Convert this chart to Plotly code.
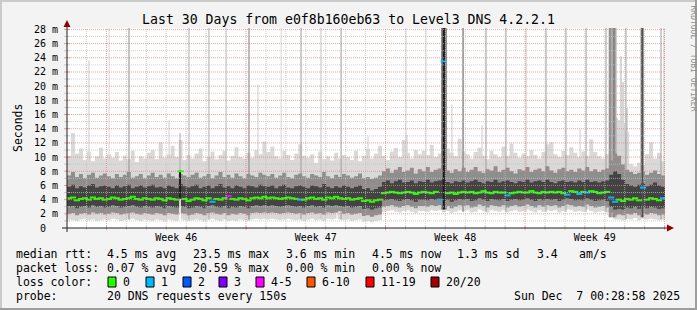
import pandas as pd
import plotly.graph_objects as go

# ---------------------------------------------------------------- data
chart_title = "Last 30 Days from e0f8b160eb63 to Level3 DNS 4.2.2.1"
y_title = "Seconds"
watermark = "RRDTOOL / TOBI OETIKER"
period_start = "2025-11-07 00:28:58"
period_end = "2025-12-07 00:28:58"

# median round trip time per sample (ms), 150 samples of 4.8 h
median_ms = [
    4.2, 4.3, 3.9, 4.1, 4.2, 4.0, 4.3, 4.1, 4.2, 4.0,
    4.1, 4.3, 4.2, 4.0, 4.1, 4.2, 4.4, 4.1, 4.0, 4.2,
    4.1, 4.0, 4.2, 4.1, 3.9, 4.2, 4.1, 4.0, 8.0, 4.1,
    3.8, 4.0, 4.2, 4.1, 3.9, 4.2, 3.7, 4.1, 4.0, 4.2,
    4.5, 4.1, 4.0, 4.2, 4.1, 3.9, 4.2, 4.3, 4.2, 4.4,
    4.2, 4.3, 4.2, 4.1, 4.2, 4.3, 4.2, 4.1, 4.0, 4.0,
    4.2, 4.3, 4.1, 4.2, 4.0, 4.3, 4.2, 4.4, 4.2, 4.1,
    4.2, 4.0, 4.1, 4.2, 3.8, 3.9, 3.7, 3.9, 4.0,
    4.9, 5.0, 5.1, 5.0, 4.9, 5.0, 5.1, 5.0, 4.8, 5.0,
    5.1, 5.0, 4.9, 5.1, 4.0, 23.5, 4.9, 5.0, 4.8, 5.0,
    5.1, 5.0, 5.1, 4.9, 5.0, 5.2, 5.0, 4.9, 5.1, 5.0,
    5.0, 4.6, 4.9, 5.0, 5.1, 5.0, 5.0, 5.2, 5.0, 4.9,
    5.1, 5.0, 5.1, 5.0, 5.1, 4.9, 4.7, 5.2, 5.1, 4.8,
    5.1, 5.0, 5.2, 5.1, 4.9, 5.0, 5.1, 4.3, 3.7,
    4.0, 3.8, 4.1, 4.0, 4.2, 3.9, 5.7, 4.0, 4.2, 4.1, 3.9, 4.2,
]
# samples that lost pings: sample index -> lost pings out of 20
lossy_samples = {36: 1, 40: 4, 58: 1, 93: 1, 94: 1, 110: 1, 125: 1, 128: 1,
                 130: 1, 136: 1, 137: 1, 144: 1, 149: 1}

# smoke: spread of the 20 pings of every sample (ms)
smoke_min = [
    1.2, 1.1, 1.0, 1.2, 1.3, 1.1, 1.2, 1.0, 1.1, 1.2,
    1.1, 1.3, 1.2, 1.0, 1.1, 1.2, 1.3, 1.1, 1.0, 1.2,
    1.1, 1.0, 1.2, 1.1, 0.9, 1.2, 1.1, 1.0, 1.2, 1.1,
    1.0, 1.1, 1.2, 1.1, 0.9, 1.2, 1.3, 1.1, 1.0, 1.2,
    1.0, 1.1, 1.0, 1.2, 1.1, 1.0, 1.2, 1.3, 1.2, 1.3,
    1.2, 1.3, 1.2, 1.1, 1.2, 1.3, 1.2, 1.1, 1.2, 1.0,
    1.2, 1.3, 1.1, 1.2, 1.0, 1.3, 1.2, 1.3, 1.2, 1.1,
    1.2, 1.0, 1.1, 1.2, 0.9, 1.0, 0.8, 1.0, 1.1,
    2.3, 2.4, 2.5, 2.3, 2.2, 2.4, 2.5, 2.3, 2.1, 2.4,
    2.4, 2.3, 2.5, 2.4, 2.5, 2.2, 2.4, 2.1, 2.3, 2.5,
    2.4, 2.5, 2.2, 2.3, 2.6, 2.4, 2.2, 2.5, 2.4, 2.3,
    2.5, 2.2, 2.4, 2.5, 2.3, 2.4, 2.6, 2.4, 2.2, 2.5,
    2.3, 2.5, 2.4, 2.5, 2.2, 2.4, 2.6, 2.5, 2.3, 2.4,
    2.3, 2.6, 2.4, 2.2, 2.3, 2.4, 2.2, 1.5, 1.2,
    1.2, 1.1, 1.3, 1.2, 1.4, 1.1, 1.3, 1.2, 1.3, 1.2, 1.1, 1.2,
]
smoke_p10 = [
    2.0, 2.1, 1.8, 2.0, 2.1, 1.9, 2.2, 2.0, 2.1, 1.9,
    2.0, 2.2, 2.1, 1.9, 2.0, 2.1, 2.2, 2.0, 1.9, 2.1,
    2.0, 1.9, 2.1, 2.0, 1.8, 2.1, 2.0, 1.9, 2.1, 2.0,
    1.8, 1.9, 2.1, 2.0, 1.8, 2.1, 2.2, 2.0, 1.9, 2.1,
    1.8, 2.0, 1.9, 2.1, 2.0, 1.8, 2.1, 2.2, 2.1, 2.2,
    2.1, 2.2, 2.1, 2.0, 2.1, 2.2, 2.1, 2.0, 2.1, 1.9,
    2.1, 2.2, 2.0, 2.1, 1.9, 2.2, 2.1, 2.2, 2.4, 2.0,
    2.1, 1.9, 2.0, 2.1, 1.7, 1.8, 1.6, 1.8, 1.9,
    3.0, 3.1, 3.2, 3.0, 2.9, 3.1, 3.2, 3.0, 2.8, 3.1,
    3.1, 3.0, 3.2, 3.1, 3.2, 2.9, 3.1, 2.8, 3.0, 3.2,
    3.1, 3.2, 2.9, 3.0, 3.3, 3.1, 2.9, 3.2, 3.1, 3.0,
    3.2, 2.9, 3.1, 3.2, 3.0, 3.1, 3.3, 3.1, 2.9, 3.2,
    3.0, 3.2, 3.1, 3.2, 2.9, 3.1, 3.3, 3.2, 3.0, 3.1,
    3.0, 3.3, 3.1, 2.9, 3.0, 3.1, 2.9, 2.2, 1.8,
    1.9, 1.8, 2.0, 1.9, 2.1, 1.8, 2.0, 1.9, 2.1, 2.0, 1.8, 1.9,
]
smoke_p25 = [
    3.0, 3.1, 2.8, 3.0, 3.1, 2.9, 3.2, 3.0, 3.1, 2.9,
    3.0, 3.2, 3.1, 2.9, 3.0, 3.1, 3.2, 3.0, 2.9, 3.1,
    3.0, 2.9, 3.1, 3.0, 2.8, 3.1, 3.0, 2.9, 3.1, 3.0,
    2.8, 2.9, 3.1, 3.0, 2.8, 3.1, 3.2, 3.0, 2.9, 3.1,
    2.8, 3.0, 2.9, 3.1, 3.0, 2.8, 3.1, 3.2, 3.1, 3.2,
    3.1, 3.2, 3.1, 3.0, 3.1, 3.2, 3.1, 3.0, 3.1, 2.9,
    3.1, 3.2, 3.0, 3.1, 2.9, 3.2, 3.1, 3.2, 3.1, 3.0,
    3.1, 2.9, 3.0, 3.1, 2.7, 2.8, 2.6, 2.8, 2.9,
    3.9, 4.0, 4.1, 3.9, 3.8, 4.0, 4.1, 3.9, 3.7, 4.0,
    4.0, 3.9, 4.1, 4.0, 4.1, 3.8, 4.0, 3.7, 3.9, 4.1,
    4.0, 4.1, 3.8, 3.9, 4.2, 4.0, 3.8, 4.1, 4.0, 3.9,
    4.1, 3.8, 4.0, 4.1, 3.9, 4.0, 4.2, 4.0, 3.8, 4.1,
    3.9, 4.1, 4.0, 4.1, 3.8, 4.0, 4.2, 4.1, 3.9, 4.0,
    3.9, 4.2, 4.0, 3.8, 3.9, 4.0, 3.8, 3.0, 2.6,
    2.7, 2.6, 2.9, 2.8, 3.0, 2.7, 2.9, 2.8, 3.0, 2.9, 2.7, 2.8,
]
smoke_p75 = [
    5.8, 6.1, 5.6, 5.9, 5.7, 6.0, 6.2, 5.7, 5.9, 6.0,
    5.8, 5.6, 6.0, 5.7, 5.9, 6.1, 5.6, 5.8, 6.0, 5.7,
    5.9, 6.1, 5.7, 5.8, 5.6, 6.0, 5.8, 5.6, 6.2, 5.9,
    5.7, 5.9, 6.1, 5.6, 5.8, 6.0, 5.6, 5.9, 6.2, 5.7,
    5.9, 5.6, 6.0, 5.8, 5.6, 6.0, 5.9, 5.7, 6.1, 5.9,
    5.8, 6.0, 5.6, 5.9, 6.1, 5.7, 5.6, 5.9, 6.0, 5.8,
    5.6, 6.0, 5.9, 5.7, 6.2, 5.8, 5.6, 5.9, 5.7, 6.0,
    5.8, 5.6, 5.8, 6.0, 5.5, 5.6, 5.3, 5.5, 5.8,
    6.5, 6.7, 6.3, 6.6, 6.8, 6.4, 6.5, 6.7, 6.3, 6.6,
    6.5, 6.8, 6.4, 6.6, 6.7, 6.9, 6.5, 6.3, 6.6, 6.5,
    6.7, 6.4, 6.6, 6.8, 6.5, 6.3, 6.6, 6.5, 6.8, 6.4,
    6.6, 6.7, 6.5, 6.3, 6.6, 6.5, 6.8, 6.4, 6.6, 6.7,
    6.5, 6.8, 6.5, 6.3, 6.6, 6.7, 6.5, 6.6, 6.4, 6.7,
    6.5, 6.8, 6.5, 6.6, 6.4, 6.6, 6.7, 7.5, 8.0,
    7.6, 6.8, 6.2, 6.0, 5.8, 6.1, 6.3, 5.9, 6.1, 6.4, 6.0, 5.8,
]
smoke_p90 = [
    7.4, 7.9, 7.2, 7.6, 7.0, 7.5, 7.8, 7.1, 7.4, 7.7,
    7.3, 7.0, 7.6, 7.2, 7.5, 7.9, 7.1, 7.3, 7.6, 7.0,
    7.4, 7.8, 7.2, 7.5, 7.1, 7.7, 7.3, 7.0, 7.6, 7.4,
    7.2, 7.5, 7.8, 7.1, 7.3, 7.6, 7.0, 7.4, 7.9, 7.2,
    7.5, 7.1, 7.7, 7.3, 7.0, 7.6, 7.4, 7.2, 7.8, 7.5,
    7.3, 7.6, 7.1, 7.4, 7.8, 7.2, 7.0, 7.5, 7.7, 7.3,
    7.1, 7.6, 7.4, 7.2, 7.9, 7.3, 7.0, 7.5, 7.2, 7.6,
    7.4, 7.1, 7.3, 7.7, 7.0, 7.2, 6.9, 7.1, 7.4,
    8.0, 8.4, 7.8, 8.2, 8.6, 7.9, 8.1, 8.5, 7.7, 8.3,
    8.0, 8.6, 7.9, 8.2, 8.4, 8.8, 8.1, 7.8, 8.3, 8.0,
    8.5, 7.9, 8.2, 8.6, 8.0, 7.8, 8.3, 8.1, 8.7, 7.9,
    8.2, 8.5, 8.0, 7.7, 8.3, 8.1, 8.6, 7.9, 8.2, 8.4,
    8.0, 8.7, 8.1, 7.8, 8.3, 8.5, 8.0, 8.2, 7.9, 8.4,
    8.1, 8.6, 8.0, 8.3, 7.9, 8.2, 8.4, 9.5, 10.5,
    10.2, 9.0, 8.2, 7.9, 7.6, 7.8, 8.0, 7.5, 7.8, 8.1, 7.6, 7.4,
]
smoke_max = [
    10.2, 13.4, 10.5, 11.2, 9.6, 10.8, 9.4, 10.1, 11.3, 9.8,
    10.4, 9.9, 10.7, 9.5, 10.2, 9.7, 10.9, 9.3, 10.1, 9.8,
    10.6, 11.0, 9.7, 12.1, 9.9, 10.4, 11.6, 10.0, 12.4, 9.6,
    10.3, 9.8, 10.5, 11.2, 9.4, 10.0, 10.8, 9.7, 10.3, 10.9,
    9.5, 10.2, 11.4, 10.0, 9.8, 10.6, 9.9, 11.0, 10.4, 12.2,
    10.7, 11.5, 10.1, 9.8, 10.9, 10.3, 9.6, 10.5, 11.8, 10.2,
    9.9, 10.4, 9.2, 10.8, 9.7, 10.1, 9.5, 10.6, 9.8, 10.3,
    10.0, 9.6, 10.9, 9.4, 10.2, 11.1, 9.8, 10.5, 11.6,
    10.2, 9.6, 10.8, 11.3, 10.0, 12.4, 10.6, 9.8, 11.0, 10.4,
    10.9, 10.3, 11.7, 10.0, 10.5, 9.9, 11.2, 10.6, 10.1, 12.6,
    10.8, 10.4, 9.8, 10.7, 11.3, 10.2, 9.7, 10.9, 10.4, 10.0,
    11.5, 10.2, 11.9, 10.6, 9.9, 10.5, 10.1, 11.0, 10.3, 9.8,
    10.7, 11.8, 12.1, 10.4, 10.0, 10.9, 10.3, 11.4, 10.6, 10.0,
    10.8, 10.2, 12.5, 10.7, 10.1, 9.8, 10.4, 13.0, 15.5,
    15.2, 14.8, 13.6, 9.0, 8.7, 9.2, 8.9, 10.4, 12.1, 9.8, 10.6, 9.4,
]

# outlier columns: day offset from start, duration (h), low / high (ms), pings that were slow
spike_day = [1.10, 5.12, 9.58, 15.10, 17.06, 19.31, 20.82, 25.74, 27.59, 27.79, 27.89, 28.09,
             2.11, 10.74, 12.74, 17.01, 18.01, 23.03, 29.95,
             3.11, 6.12, 7.12, 7.98, 9.13, 11.74, 13.75, 19.87, 21.02, 22.02, 24.03, 25.03,
             26.04, 27.04, 28.04, 29.80,
             27.37, 27.24, 27.44, 18.91, 28.85, 5.67,
             18.91, 28.87, 5.67]
spike_hours = [1.5, 1.5, 1.5, 1.5, 1.5, 1.5, 1.5, 1.5, 2.4, 2.4, 2.4, 2.4,
               1.2, 1.2, 1.2, 1.2, 1.2, 1.2, 1.2,
               1.2, 1.2, 1.2, 1.2, 1.2, 1.2, 1.2, 1.8, 1.2, 1.2, 1.2, 1.2,
               1.2, 1.2, 1.2, 1.2,
               9.6, 1.8, 1.8, 7.2, 3.6, 1.2,
               3.0, 1.8, 2.4]
spike_low_ms = [8, 8, 8, 8, 8, 8, 8, 8, 8, 8, 8, 8,
                1.2, 1.2, 1.2, 2.3, 2.3, 2.3, 1.2,
                1.2, 1.2, 1.2, 1.2, 1.2, 1.2, 1.2, 2.3, 2.3, 2.3, 2.3, 2.3,
                2.3, 2.3, 1.2, 1.2,
                1.5, 1.5, 1.5, 2.6, 1.5, 8.1,
                2.6, 1.5, 4.3]
spike_high_ms = [23.6, 15.2, 20.2, 12.9, 13.1, 17.4, 14.5, 14.0, 15.5, 24.2, 20.6, 16.9,
                 40, 40, 40, 40, 40, 40, 40,
                 40, 40, 40, 40, 40, 40, 40, 40, 40, 40, 40, 40,
                 40, 40, 40, 40,
                 40, 40, 40, 40, 40, 13.4,
                 40, 40, 8.1]
spike_pings = [1, 1, 1, 1, 1, 1, 1, 1, 1, 1, 1, 1,
               1, 1, 2, 1, 1, 2, 2,
               5, 3, 3, 2, 6, 4, 4, 5, 4, 4, 4, 4,
               4, 4, 4, 4,
               3, 5, 6, 5, 6, 3,
               20, 8, 20]

# samples with no data at the bottom of the smoke
gap_day = [5.67, 13.55]
gap_hours = [1.8, 1.4]
gap_low_ms = [0.0, 1.0]
gap_high_ms = [4.1, 2.1]

y_tick_values = [0, 2, 4, 6, 8, 10, 12, 14, 16, 18, 20, 22, 24, 26, 28]
y_tick_labels = ["0", "2 m", "4 m", "6 m", "8 m", "10 m", "12 m", "14 m", "16 m",
                 "18 m", "20 m", "22 m", "24 m", "26 m", "28 m"]
week_label_dates = ["2025-11-12 12:00", "2025-11-19 12:00", "2025-11-26 12:00", "2025-12-03 12:00"]
week_labels = ["Week 46", "Week 47", "Week 48", "Week 49"]

legend_rows = ["median rtt:", "packet loss:", "loss color:", "probe:"]
rtt_stats = ["4.5 ms avg", "23.5 ms max", "3.6 ms min", "4.5 ms now", "1.3 ms sd", "3.4", "am/s"]
loss_stats = ["0.07 % avg", "20.59 % max", "0.00 % min", "0.00 % now"]
loss_bins = ["0", "1", "2", "3", "4-5", "6-10", "11-19", "20/20"]
loss_bin_colors = ["#26ff00", "#00b8ff", "#0059ff", "#7e00ff", "#ff00ff", "#ff5500", "#ff0000", "#a00000"]
probe_text = "20 DNS requests every 150s"
timestamp_text = "Sun Dec\u00a0 7 00:28:58 2025"

# ---------------------------------------------------------------- layout constants
W, H = 697, 310
ML, MR, MT, MB = 67, 32, 28, 82
PW, PH = W - ML - MR, H - MT - MB
FONT = "DejaVu Sans Mono"


def xp(px):
    return (px - ML) / PW


def yp(py):
    return (H - MB - py) / PH


t0 = pd.Timestamp(period_start)
t1 = pd.Timestamp(period_end)
n = len(median_ms)
step = (t1 - t0) / n
edges = [t0 + k * step for k in range(n + 1)]
centers = [t0 + (k + 0.5) * step for k in range(n)]

fig = go.Figure()


def stepped(v):
    return list(v) + [v[-1]]


def band(lower, upper, color):
    fig.add_trace(go.Scatter(x=edges, y=stepped(lower), mode="lines",
                             line=dict(width=0, shape="hv"), hoverinfo="skip", showlegend=False))
    fig.add_trace(go.Scatter(x=edges, y=stepped(upper), mode="lines", fill="tonexty",
                             fillcolor=color, line=dict(width=0, shape="hv"),
                             hoverinfo="skip", showlegend=False))


shade = {1: "#d6d6d6", 2: "#c4c4c4", 3: "#ababab", 4: "#9c9c9c", 5: "#8c8c8c",
         6: "#7a7a7a", 8: "#505050", 20: "#1e1e1e"}


def columns(days, hours, lows, highs, color):
    xs, ys = [], []
    for d, h, lo, hi in zip(days, hours, lows, highs):
        c = t0 + pd.Timedelta(days=d)
        half = pd.Timedelta(hours=h / 2)
        a, b = c - half, c + half
        xs += [a, b, b, a, a, None]
        ys += [lo, lo, hi, hi, lo, None]
    fig.add_trace(go.Scatter(x=xs, y=ys, mode="lines", fill="toself", fillcolor=color,
                             line=dict(width=0), hoverinfo="skip", showlegend=False))


def spikes(keep):
    groups = {}
    for i, p in enumerate(spike_pings):
        if keep(p):
            groups.setdefault(p, []).append(i)
    for p in sorted(groups):
        idx = groups[p]
        columns([spike_day[i] for i in idx], [spike_hours[i] for i in idx],
                [spike_low_ms[i] for i in idx], [spike_high_ms[i] for i in idx], shade[p])


band(smoke_min, smoke_max, "#d9d9d9")
spikes(lambda p: p < 8)
band(smoke_p10, smoke_p90, "#8e8e8e")
band(smoke_p25, smoke_p75, "#434343")
spikes(lambda p: p >= 8)
columns(gap_day, gap_hours, gap_low_ms, gap_high_ms, "#ffffff")


def loss_color(c):
    bounds = [0, 1, 2, 3, 5, 10, 19, 20]
    for k, b in enumerate(bounds):
        if c <= b:
            return loss_bin_colors[k]
    return loss_bin_colors[-1]


loss = [lossy_samples.get(i, 0) for i in range(n)]
fig.add_trace(go.Scatter(
    x=centers, y=median_ms, mode="markers", hoverinfo="skip", showlegend=False,
    marker=dict(symbol="line-ew", size=4.4,
                line=dict(width=2, color=[loss_color(c) for c in loss]))))

# ---------------------------------------------------------------- grid (on top, like rrdtool)
shapes = []
MINOR = "rgba(192,192,192,0.75)"
MAJOR = "rgba(230,128,128,0.75)"
for d in pd.date_range("2025-11-08", "2025-12-07", freq="D"):
    col = MAJOR if d.dayofweek == 6 else MINOR
    shapes.append(dict(type="line", xref="x", yref="paper", x0=d, x1=d, y0=0, y1=1,
                       line=dict(color=col, width=1, dash="1px,1px"), layer="above"))
    shapes.append(dict(type="line", xref="x", yref="paper", x0=d, x1=d, y0=yp(230), y1=yp(226),
                       line=dict(color=col, width=1), layer="above"))
for m in range(1, 29):
    col = MAJOR if m % 2 == 0 else MINOR
    shapes.append(dict(type="line", xref="paper", yref="y", x0=0, x1=1, y0=m, y1=m,
                       line=dict(color=col, width=1, dash="1px,1px"), layer="above"))
    shapes.append(dict(type="line", xref="paper", yref="y", x0=xp(64), x1=xp(70), y0=m, y1=m,
                       line=dict(color=col, width=1), layer="above"))

AX = "#202020"
ARROW = "#900000"
shapes += [
    dict(type="line", xref="paper", yref="paper", x0=xp(62), x1=xp(668), y0=0, y1=0,
         line=dict(color=AX, width=1), layer="above"),
    dict(type="line", xref="paper", yref="paper", x0=0, x1=0, y0=yp(232), y1=yp(25),
         line=dict(color=AX, width=1), layer="above"),
    dict(type="path", xref="paper", yref="paper", layer="above",
         path=f"M {xp(667)},{yp(224.5)} L {xp(674)},{yp(228)} L {xp(667)},{yp(231.5)} Z",
         fillcolor=ARROW, line=dict(width=0)),
    dict(type="path", xref="paper", yref="paper", layer="above",
         path=f"M {xp(63.5)},{yp(27)} L {xp(67)},{yp(20)} L {xp(70.5)},{yp(27)} Z",
         fillcolor=ARROW, line=dict(width=0)),
    # 3-D frame of the image
    dict(type="rect", xref="paper", yref="paper", x0=xp(0), x1=xp(W), y0=yp(0), y1=yp(2),
         fillcolor="#cbcbcb", line=dict(width=0), layer="above"),
    dict(type="rect", xref="paper", yref="paper", x0=xp(0), x1=xp(2), y0=yp(0), y1=yp(H),
         fillcolor="#cbcbcb", line=dict(width=0), layer="above"),
    dict(type="rect", xref="paper", yref="paper", x0=xp(W - 2), x1=xp(W), y0=yp(0), y1=yp(H),
         fillcolor="#9e9e9e", line=dict(width=0), layer="above"),
    dict(type="rect", xref="paper", yref="paper", x0=xp(0), x1=xp(W), y0=yp(H - 2), y1=yp(H),
         fillcolor="#9e9e9e", line=dict(width=0), layer="above"),
]

# legend boxes
box_left = [108, 146, 183, 219, 256, 307, 366, 431]
for bx, col in zip(box_left, loss_bin_colors):
    shapes.append(dict(type="rect", xref="paper", yref="paper", x0=xp(bx), x1=xp(bx + 8),
                       y0=yp(287), y1=yp(277), fillcolor=col, line=dict(color="#000000", width=1)))

# ---------------------------------------------------------------- texts
ann = []


def text(px, py, s, size=11.5, anchor="left", color="#000000", angle=0):
    ann.append(dict(x=xp(px), y=yp(py), xref="paper", yref="paper", text=s, showarrow=False,
                    xanchor=anchor, yanchor="middle", textangle=angle,
                    font=dict(family=FONT, size=size, color=color), borderpad=0))


row_y = [254, 268, 282, 296]
for s, y in zip(legend_rows, row_y):
    text(15, y, s)
for s, x in zip(rtt_stats, [106, 192, 285, 371, 456, 536, 578]):
    text(x, row_y[0], s)
for s, x in zip(loss_stats, [106, 192, 285, 371]):
    text(x, row_y[1], s)
for s, bx in zip(loss_bins, box_left):
    text(bx + 14, row_y[2], s)
text(106, row_y[3], probe_text)
text(681, row_y[3], timestamp_text, anchor="right")
text(10, 128, y_title, angle=-90)
text(688, 58, watermark, size=8, color="#8f8f8f", angle=90)

fig.update_layout(
    width=W, height=H, autosize=False,
    margin=dict(l=ML, r=MR, t=MT, b=MB, pad=0),
    paper_bgcolor="#f3f3f3", plot_bgcolor="#ffffff",
    showlegend=False,
    title=dict(text=chart_title, x=0.5, xref="container", xanchor="center",
               y=1 - 19 / H, yref="container", yanchor="middle",
               font=dict(family=FONT, size=13.2, color="#000000")),
    xaxis=dict(type="date", range=[t0, t1], showgrid=False, zeroline=False, showline=False,
               tickvals=week_label_dates, ticktext=week_labels, ticks="",
               tickfont=dict(family=FONT, size=10, color="#000000"), ticklabelstandoff=2,
               fixedrange=True),
    yaxis=dict(range=[0, 28.2], showgrid=False, zeroline=False, showline=False,
               tickvals=y_tick_values,
               ticktext=[(s if s != "0" else "0\u00a0\u00a0") for s in y_tick_labels],
               ticks="", tickfont=dict(family=FONT, size=10, color="#000000"),
               ticklabelstandoff=8, fixedrange=True),
    shapes=shapes,
    annotations=ann,
)

fig.write_html("out.html")
